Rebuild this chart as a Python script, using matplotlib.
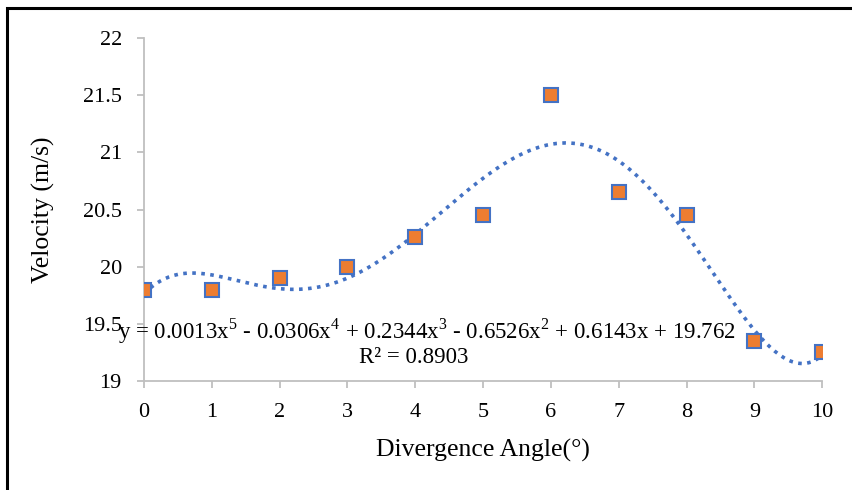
import numpy as np
import matplotlib.pyplot as plt
from matplotlib.patches import Rectangle

# data
angle = [0, 1, 2, 3, 4, 5, 6, 7, 8, 9, 10]
velocity = [19.8, 19.8, 19.9, 20.0, 20.26, 20.45, 21.5, 20.65, 20.45, 19.35, 19.25]
y_ticks = [19, 19.5, 20, 20.5, 21, 21.5, 22]
eq_text = "y = 0.0013x$^5$ - 0.0306x$^4$ + 0.2344x$^3$ - 0.6526x$^2$ + 0.6143x + 19.762"
r2_text = "R² = 0.8903"

plt.rcParams['font.family'] = ['Liberation Serif', 'DejaVu Serif']
plt.rcParams['mathtext.fontset'] = 'custom'
plt.rcParams['mathtext.rm'] = 'Liberation Serif'

fig = plt.figure(figsize=(8.52, 4.9), dpi=100)
ax = fig.add_axes([0.169, 0.2224, 0.796, 0.6996])

# 5th order polynomial trendline (fit of the data, as in the chart)
coef = np.polyfit(angle, velocity, 5)
xs = np.linspace(0, 10, 300)
ax.plot(xs, np.polyval(coef, xs), linestyle=(0, (1, 1.5)), color='#4472C4', linewidth=2.6, zorder=2)

ax.plot(angle, velocity, 's', markersize=10.5, markerfacecolor='#ED7D31',
        markeredgecolor='#4472C4', markeredgewidth=1.5, linestyle='none', zorder=3)

ax.set_xlim(0, 10)
ax.set_ylim(19, 22)
ax.set_xticks(angle)
ax.set_yticks(y_ticks)
ax.set_yticklabels(['19', '19.5', '20', '20.5', '21', '21.5', '22'])
for s in ['top', 'right']:
    ax.spines[s].set_visible(False)
for s in ['left', 'bottom']:
    ax.spines[s].set_color('#BFBFBF')
    ax.spines[s].set_linewidth(1.3)
ax.tick_params(axis='both', colors='#BFBFBF', labelcolor='black', labelsize=16,
               length=5, width=1.3, direction='out')
ax.tick_params(axis='x', pad=11)
ax.tick_params(axis='y', pad=11)

ax.set_xlabel('Divergence Angle(°)', fontsize=18.5, labelpad=12)
ax.set_ylabel('Velocity (m/s)', fontsize=18.5, labelpad=20)

ax.text(0.417, 0.145, eq_text, transform=ax.transAxes, ha='center', va='center', fontsize=16.5)
ax.text(0.397, 0.07, r2_text, transform=ax.transAxes, ha='center', va='center', fontsize=16.5)

# outer frame
fig.patches.append(Rectangle((0.008, -0.05), 1.2, 1.034, transform=fig.transFigure,
                             fill=False, edgecolor='black', linewidth=2.2))

fig.savefig('out.png', dpi=100)
